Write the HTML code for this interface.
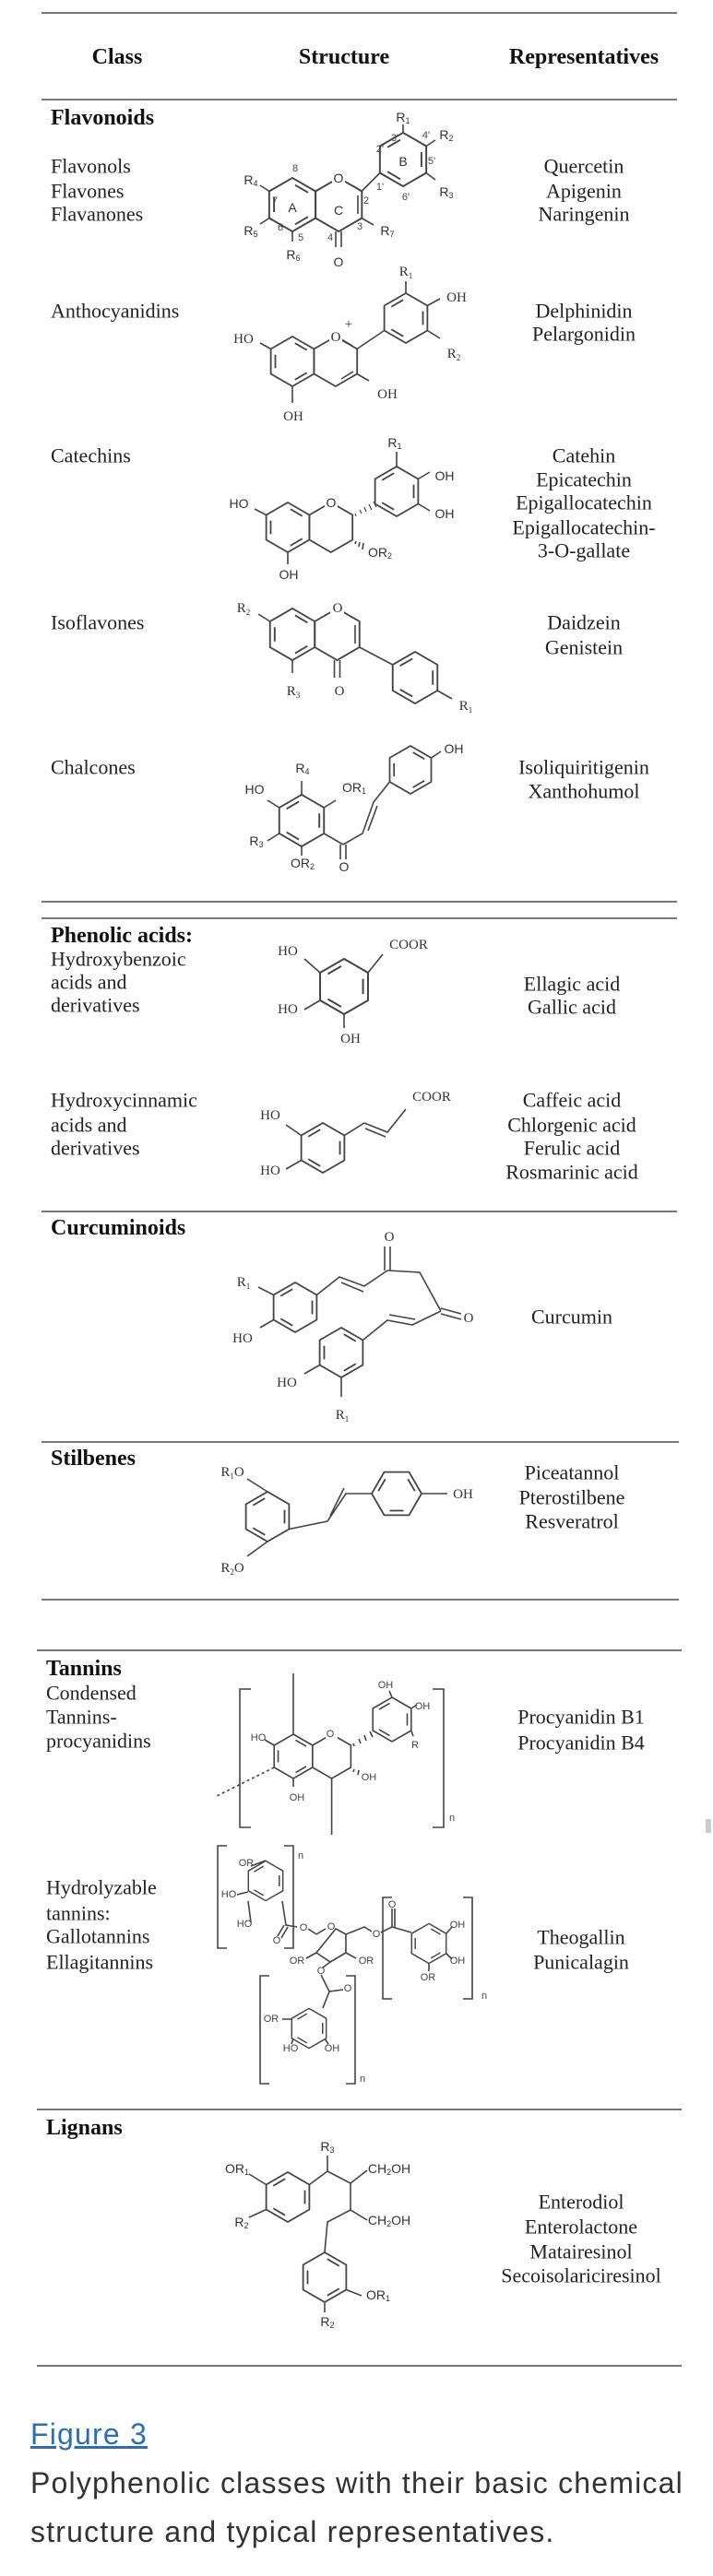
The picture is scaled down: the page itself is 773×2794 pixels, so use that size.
<!DOCTYPE html>
<html><head><meta charset="utf-8">
<style>
html,body{margin:0;padding:0;background:#fff;}
body{width:773px;height:2794px;position:relative;overflow:hidden;}
svg{position:absolute;left:0;top:0;}
.t{font-family:"Liberation Serif",serif;font-size:22px;fill:#222;}
.b{font-family:"Liberation Serif",serif;font-size:24px;font-weight:bold;fill:#111;}
.r{font-family:"Liberation Serif",serif;font-size:22px;fill:#222;text-anchor:middle;}
.l{font-family:"Liberation Serif",serif;font-size:15px;fill:#333;text-anchor:middle;dominant-baseline:central;}
.s{font-family:"Liberation Sans",sans-serif;font-size:14px;fill:#333;text-anchor:middle;dominant-baseline:central;}
.ss{font-family:"Liberation Sans",sans-serif;font-size:11px;fill:#444;text-anchor:middle;dominant-baseline:central;}
.hr{stroke:#777;stroke-width:2;}
.m{stroke:#444;stroke-width:1.6;fill:none;}
.m *{vector-effect:non-scaling-stroke;}
.cap{position:absolute;left:33px;font-family:"Liberation Sans",sans-serif;font-size:32px;letter-spacing:1.2px;color:#333;white-space:nowrap;line-height:53px;}
</style></head><body>
<svg width="773" height="2794" viewBox="0 0 773 2794">
<defs>
<polygon id="hx" points="0,-24 20.78,-12 20.78,12 0,24 -20.78,12 -20.78,-12"/>
<g id="hd"><polygon points="0,-24 20.78,-12 20.78,12 0,24 -20.78,12 -20.78,-12"/><path d="M2.5,-17.6L14,-10.9M14,10.9L2.5,17.6M-16.45,6.6L-16.45,-6.6"/></g>
<g id="hd2"><polygon points="0,-24 20.78,-12 20.78,12 0,24 -20.78,12 -20.78,-12"/><path d="M16.45,-6.6L16.45,6.6M-2.5,17.6L-14,10.9M-14,-10.9L-2.5,-17.6"/></g>
<g id="fd"><polygon points="-24,0 -12,-20.78 12,-20.78 24,0 12,20.78 -12,20.78"/><path d="M-10.9,-14L-17.6,-2.5M-6.6,16.45L6.6,16.45M17.6,-2.5L10.9,-14"/></g>
</defs>

<rect x="765" y="1973" width="6" height="15" fill="#ccc"/>

<!-- rules -->
<line class="hr" x1="45" y1="14" x2="734" y2="14"/>
<line class="hr" x1="45" y1="108" x2="734" y2="108"/>
<line class="hr" x1="45" y1="978" x2="734" y2="978"/>
<line class="hr" x1="45" y1="996" x2="734" y2="996"/>
<line class="hr" x1="45" y1="1314" x2="734" y2="1314"/>
<line class="hr" x1="45" y1="1564" x2="736" y2="1564"/>
<line class="hr" x1="45" y1="1735" x2="736" y2="1735"/>
<line class="hr" x1="40" y1="1790" x2="739" y2="1790"/>
<line class="hr" x1="40" y1="2288" x2="739" y2="2288"/>
<line class="hr" x1="40" y1="2566" x2="739" y2="2566"/>

<g dominant-baseline="central">
<text class="b" x="127" y="62" text-anchor="middle">Class</text>
<text class="b" x="373" y="62" text-anchor="middle">Structure</text>
<text class="b" x="633" y="62" text-anchor="middle">Representatives</text>

<text class="b" x="55" y="128">Flavonoids</text>
<text class="t" x="55" y="180">Flavonols</text>
<text class="t" x="55" y="207">Flavones</text>
<text class="t" x="55" y="232">Flavanones</text>
<text class="r" x="633" y="180">Quercetin</text>
<text class="r" x="633" y="207">Apigenin</text>
<text class="r" x="633" y="232">Naringenin</text>

<text class="t" x="55" y="337">Anthocyanidins</text>
<text class="r" x="633" y="337">Delphinidin</text>
<text class="r" x="633" y="362">Pelargonidin</text>

<text class="t" x="55" y="494">Catechins</text>
<text class="r" x="633" y="494">Catehin</text>
<text class="r" x="633" y="520">Epicatechin</text>
<text class="r" x="633" y="545">Epigallocatechin</text>
<text class="r" x="633" y="572">Epigallocatechin-</text>
<text class="r" x="633" y="597">3-O-gallate</text>

<text class="t" x="55" y="675">Isoflavones</text>
<text class="r" x="633" y="675">Daidzein</text>
<text class="r" x="633" y="702">Genistein</text>

<text class="t" x="55" y="832">Chalcones</text>
<text class="r" x="633" y="832">Isoliquiritigenin</text>
<text class="r" x="633" y="858">Xanthohumol</text>

<text class="b" x="55" y="1015">Phenolic acids:</text>
<text class="t" x="55" y="1040">Hydroxybenzoic</text>
<text class="t" x="55" y="1065">acids and</text>
<text class="t" x="55" y="1090">derivatives</text>
<text class="r" x="620" y="1067">Ellagic acid</text>
<text class="r" x="620" y="1092">Gallic acid</text>

<text class="t" x="55" y="1193">Hydroxycinnamic</text>
<text class="t" x="55" y="1220">acids and</text>
<text class="t" x="55" y="1245">derivatives</text>
<text class="r" x="620" y="1193">Caffeic acid</text>
<text class="r" x="620" y="1220">Chlorgenic acid</text>
<text class="r" x="620" y="1245">Ferulic acid</text>
<text class="r" x="620" y="1271">Rosmarinic acid</text>

<text class="b" x="55" y="1332">Curcuminoids</text>
<text class="r" x="620" y="1428">Curcumin</text>

<text class="b" x="55" y="1582">Stilbenes</text>
<text class="r" x="620" y="1597">Piceatannol</text>
<text class="r" x="620" y="1624">Pterostilbene</text>
<text class="r" x="620" y="1650">Resveratrol</text>

<text class="b" x="50" y="1810">Tannins</text>
<text class="t" x="50" y="1836">Condensed</text>
<text class="t" x="50" y="1862">Tannins-</text>
<text class="t" x="50" y="1888">procyanidins</text>
<text class="r" x="630" y="1862">Procyanidin B1</text>
<text class="r" x="630" y="1890">Procyanidin B4</text>

<text class="t" x="50" y="2047">Hydrolyzable</text>
<text class="t" x="50" y="2075">tannins:</text>
<text class="t" x="50" y="2100">Gallotannins</text>
<text class="t" x="50" y="2128">Ellagitannins</text>
<text class="r" x="630" y="2101">Theogallin</text>
<text class="r" x="630" y="2128">Punicalagin</text>

<text class="b" x="50" y="2308">Lignans</text>
<text class="r" x="630" y="2388">Enterodiol</text>
<text class="r" x="630" y="2415">Enterolactone</text>
<text class="r" x="630" y="2442">Matairesinol</text>
<text class="r" x="630" y="2468">Secoisolariciresinol</text>
</g>

<!-- Flavone -->
<g class="m">
<use href="#hd" transform="translate(317,222) scale(1.21)"/>
<use href="#hx" transform="translate(367.2,222) scale(1.21)"/>
<use href="#hd2" transform="translate(437,173) scale(1.21)"/>
<path d="M388,232L388,212M392,207.5L412,187.5M437,144L437,135M462,158.5L472,152M462,187.5L472,195M292,207.5L282,201M292,236.5L282,243M317,251L317,262M364,251L364,268M370,251L370,268M392,236.5L405,244"/>
</g>
<rect x="360" y="185" width="14" height="16" fill="#fff"/>
<text class="s" x="367" y="193">O</text>
<text class="s" x="437" y="127">R<tspan font-size="9" dy="4">1</tspan></text>
<text class="s" x="484" y="146">R<tspan font-size="9" dy="4">2</tspan></text>
<text class="s" x="484" y="208">R<tspan font-size="9" dy="4">3</tspan></text>
<text class="s" x="272" y="195">R<tspan font-size="9" dy="4">4</tspan></text>
<text class="s" x="272" y="250">R<tspan font-size="9" dy="4">5</tspan></text>
<text class="s" x="318" y="276">R<tspan font-size="9" dy="4">6</tspan></text>
<text class="s" x="420" y="250">R<tspan font-size="9" dy="4">7</tspan></text>
<text class="s" x="367" y="284">O</text>
<text class="s" x="317" y="225">A</text>
<text class="s" x="367" y="228">C</text>
<text class="s" x="437" y="175">B</text>
<text class="ss" x="320" y="183">8</text>
<text class="ss" x="298" y="218">7</text>
<text class="ss" x="304" y="247">6</text>
<text class="ss" x="326" y="258">5</text>
<text class="ss" x="358" y="258">4</text>
<text class="ss" x="390" y="246">3</text>
<text class="ss" x="397" y="218">2</text>
<text class="ss" x="412" y="203">1'</text>
<text class="ss" x="412" y="162">2'</text>
<text class="ss" x="428" y="150">3'</text>
<text class="ss" x="462" y="147">4'</text>
<text class="ss" x="468" y="175">5'</text>
<text class="ss" x="440" y="214">6'</text>

<!-- Anthocyanidin -->
<g class="m">
<use href="#hd" transform="translate(317,392) scale(1.125)"/>
<use href="#hx" transform="translate(363.8,392) scale(1.125)"/>
<use href="#hd2" transform="translate(440,345) scale(1.125)"/>
<path d="M370,368L382,375M383,403L370,411M293.6,378.5L282,372M317,419L317,437M387,405.5L400,413M387,378.5L416.6,358.5M440,318L440,305M463.4,331.5L477,324M463.4,358.5L477,367"/>
</g>
<rect x="357" y="358" width="14" height="16" fill="#fff"/>
<text class="l" x="364" y="366">O</text>
<text class="l" x="378" y="352" font-size="12">+</text>
<text class="l" x="264" y="368">HO</text>
<text class="l" x="318" y="452">OH</text>
<text class="l" x="420" y="428">OH</text>
<text class="l" x="440" y="295">R<tspan font-size="9" dy="4">1</tspan></text>
<text class="l" x="495" y="323">OH</text>
<text class="l" x="492" y="384">R<tspan font-size="9" dy="4">2</tspan></text>

<!-- Catechin -->
<g class="m">
<use href="#hd" transform="translate(312,572) scale(1.125)"/>
<use href="#hx" transform="translate(358.8,572) scale(1.125)"/>
<use href="#hd2" transform="translate(430,533) scale(1.125)"/>
<path d="M288.6,558.5L276,552M312,599L312,612M430,506L430,490M453.4,519.5L466,512M453.4,546.5L466,554"/>
<path d="M385,557L386,560M390,553L392,557M395,550L397,555M400,547L403,553M405,544L408,550" stroke-width="1.2"/>
<path d="M386,587L385,590M390,588L389,593M394,589L393,596"/>
</g>
<rect x="352" y="537" width="14" height="16" fill="#fff"/>
<text class="s" x="359" y="545">O</text>
<text class="s" x="259" y="546">HO</text>
<text class="s" x="313" y="623">OH</text>
<text class="s" x="412" y="599">OR<tspan font-size="9" dy="4">2</tspan></text>
<text class="s" x="428" y="480">R<tspan font-size="9" dy="4">1</tspan></text>
<text class="s" x="482" y="516">OH</text>
<text class="s" x="482" y="557">OH</text>

<!-- Isoflavone -->
<g class="m">
<use href="#hd" transform="translate(317,688) scale(1.167)"/>
<use href="#hx" transform="translate(365.5,688) scale(1.167)"/>
<use href="#fd" transform="translate(450,735) scale(1.167) rotate(30)"/>
<path d="M385,678L385,698M292.75,674L280,666M317,716L317,730M362.5,716L362.5,735M368.5,716L368.5,735M389.75,702L425.75,721M474.25,749L490,758"/>
</g>
<rect x="358" y="652" width="15" height="16" fill="#fff"/>
<text class="l" x="366" y="660">O</text>
<text class="l" x="264" y="660">R<tspan font-size="9" dy="4">2</tspan></text>
<text class="l" x="318" y="750">R<tspan font-size="9" dy="4">3</tspan></text>
<text class="l" x="368" y="750">O</text>
<text class="l" x="505" y="766">R<tspan font-size="9" dy="4">1</tspan></text>

<!-- Chalcone -->
<g class="m">
<use href="#hd2" transform="translate(327,890) scale(1.167)"/>
<use href="#hd" transform="translate(445,835) scale(1.083)"/>
<path d="M327,862L327,847M302.75,876L290,868M351.25,876L364,868M302.75,904L290,912M327,918L327,928M351.25,904L372,916M369,916L369,932M375,916L375,932M372,916L393,904L405,870L422.5,848M399,901L409,874M467.5,822L478,815"/>
</g>
<text class="s" x="328" y="833">R<tspan font-size="9" dy="4">4</tspan></text>
<text class="s" x="276" y="856">HO</text>
<text class="s" x="384" y="854">OR<tspan font-size="9" dy="4">1</tspan></text>
<text class="s" x="278" y="912">R<tspan font-size="9" dy="4">3</tspan></text>
<text class="s" x="328" y="936">OR<tspan font-size="9" dy="4">2</tspan></text>
<text class="s" x="373" y="940">O</text>
<text class="s" x="492" y="812">OH</text>

<!-- Gallic -->
<g class="m">
<use href="#hd2" transform="translate(373,1070) scale(1.25)"/>
<path d="M399,1055L415,1035M347,1055L330,1040M347,1085L330,1095M373,1100L373,1115"/>
</g>
<text class="l" x="312" y="1032">HO</text>
<text class="l" x="443" y="1025">COOR</text>
<text class="l" x="312" y="1095">HO</text>
<text class="l" x="380" y="1127">OH</text>

<!-- Caffeic -->
<g class="m">
<use href="#hd2" transform="translate(350,1245) scale(1.125)"/>
<path d="M373.4,1231.5L395,1218L420,1228L440,1203M396,1224L418,1233M326.6,1231.5L310,1220M326.6,1258.5L310,1268"/>
</g>
<text class="l" x="293" y="1210">HO</text>
<text class="l" x="293" y="1270">HO</text>
<text class="l" x="468" y="1190">COOR</text>

<!-- Curcumin -->
<g class="m">
<use href="#hd2" transform="translate(320,1418) scale(1.125)"/>
<use href="#hd" transform="translate(370,1467) scale(1.125)"/>
<path d="M296.6,1404.5L280,1396M296.6,1431.5L282,1440M343.4,1404.5L368,1385L395,1395L420,1378M370,1391L394,1401M417,1378L417,1352M423,1378L423,1352M420,1378L455,1380L478,1422M478,1419L500,1425M478,1425L500,1431M478,1422L447,1437L420,1432L393.4,1453.5M450,1431L422,1426M346.6,1480.5L330,1490M370,1494L370,1515"/>
</g>
<text class="l" x="422" y="1342">O</text>
<text class="l" x="508" y="1430">O</text>
<text class="l" x="264" y="1391">R<tspan font-size="9" dy="4">1</tspan></text>
<text class="l" x="263" y="1452">HO</text>
<text class="l" x="311" y="1500">HO</text>
<text class="l" x="371" y="1535">R<tspan font-size="9" dy="4">1</tspan></text>

<!-- Stilbene -->
<g class="m">
<use href="#hd2" transform="translate(290,1645) scale(1.125)"/>
<use href="#fd" transform="translate(430,1620) scale(1.125)"/>
<path d="M290,1618L268,1604M290,1672L268,1688M313.4,1658.5L355,1650L375,1620L403,1620M358,1644L373,1614M457,1620L485,1620"/>
</g>
<text class="l" x="252" y="1597">R<tspan font-size="9" dy="4">1</tspan><tspan dy="-4">O</tspan></text>
<text class="l" x="252" y="1701">R<tspan font-size="9" dy="4">2</tspan><tspan dy="-4">O</tspan></text>
<text class="l" x="502" y="1621">OH</text>

<!-- Procyanidin -->
<g class="m" stroke-width="1.3">
<use href="#hd" transform="translate(318,1905)"/>
<use href="#hx" transform="translate(359.6,1905)"/>
<use href="#hd2" transform="translate(425,1865)"/>
<path d="M318,1881L318,1815M297.2,1893L287,1887M318,1929L318,1938M359.6,1929L359.6,1990M425,1841L422,1834M445.8,1853L452,1849M445.8,1877L448,1883"/>
<path d="M297.2,1917L235,1948" stroke-dasharray="3,3"/>
<path d="M383,1891L384,1894M389,1886L391,1891M395,1882L397,1888M401,1878L404,1884"/>
<path d="M384,1919L383,1922M389,1920L388,1925"/>
<path d="M272,1832L260,1832L260,1982L272,1982M469,1832L481,1832L481,1982L469,1982"/>
</g>
<rect x="353" y="1874" width="13" height="14" fill="#fff"/>
<text class="ss" x="358" y="1881">O</text>
<text class="ss" x="280" y="1885">HO</text>
<text class="ss" x="322" y="1950">OH</text>
<text class="ss" x="400" y="1928">OH</text>
<text class="ss" x="418" y="1828">OH</text>
<text class="ss" x="458" y="1851">OH</text>
<text class="ss" x="450" y="1893">R</text>
<text class="ss" x="490" y="1972">n</text>

<!-- Hydrolyzable -->
<g class="m" stroke-width="1.2">
<path d="M343,2098L353,2092M364,2092L375,2098L375,2118L358,2128L343,2118Z"/>
<use href="#hd2" transform="translate(288,2040) scale(0.9)"/>
<use href="#hd" transform="translate(465,2108) scale(0.9)"/>
<use href="#hd2" transform="translate(335,2200) scale(0.9)"/>
<path d="M288,2018L272,2024M269,2052L257,2055M269,2062L272,2085M306,2062L310,2088L322,2090M308,2088L301,2100M312,2090L305,2102M334,2092L343,2098"/>
<path d="M375,2098L395,2090L403,2095M413,2096L425,2090L425,2070M428,2090L428,2070M425,2090L446,2096M484,2097L490,2090M484,2119L490,2125M465,2130L465,2138"/>
<path d="M343,2118L332,2124M375,2118L386,2124M358,2128L350,2134M348,2142L357,2160L372,2158M357,2160L350,2178M316,2190L306,2190M318,2211L316,2217M352,2211L356,2217"/>
<path d="M246,2002L236,2002L236,2113L246,2113M308,2002L318,2002L318,2113L308,2113"/>
<path d="M425,2058L415,2058L415,2168L425,2168M502,2058L512,2058L512,2168L502,2168"/>
<path d="M292,2143L282,2143L282,2260L292,2260M375,2143L385,2143L385,2260L375,2260"/>
</g>
<text class="ss" x="359" y="2090">O</text>
<text class="ss" x="329" y="2091">O</text>
<text class="ss" x="300" y="2105">O</text>
<text class="ss" x="267" y="2021">OR</text>
<text class="ss" x="248" y="2055">HO</text>
<text class="ss" x="265" y="2087">HO</text>
<text class="ss" x="326" y="2013">n</text>
<text class="ss" x="408" y="2098">O</text>
<text class="ss" x="425" y="2066">O</text>
<text class="ss" x="496" y="2088">OH</text>
<text class="ss" x="496" y="2127">OH</text>
<text class="ss" x="464" y="2145">OR</text>
<text class="ss" x="525" y="2165">n</text>
<text class="ss" x="322" y="2127">OR</text>
<text class="ss" x="397" y="2127">OR</text>
<text class="ss" x="348" y="2138">O</text>
<text class="ss" x="377" y="2157">O</text>
<text class="ss" x="294" y="2190">OR</text>
<text class="ss" x="315" y="2222">HO</text>
<text class="ss" x="360" y="2222">OH</text>
<text class="ss" x="393" y="2255">n</text>

<!-- Lignan -->
<g class="m">
<use href="#hd2" transform="translate(312,2383) scale(1.125)"/>
<use href="#hd" transform="translate(352,2470) scale(1.125)"/>
<path d="M288.6,2369.5L270,2358M288.6,2396.5L270,2405M335.4,2369.5L355,2355L355,2338M355,2355L380,2368L398,2354M380,2368L380,2397L398,2408M380,2397L355,2410L352,2443M375.4,2483.5L392,2490M352,2497L352,2508"/>
</g>
<text class="s" x="257" y="2352">OR<tspan font-size="9" dy="4">1</tspan></text>
<text class="s" x="262" y="2410">R<tspan font-size="9" dy="4">2</tspan></text>
<text class="s" x="355" y="2328">R<tspan font-size="9" dy="4">3</tspan></text>
<text class="s" x="422" y="2352">CH<tspan font-size="9" dy="4">2</tspan><tspan dy="-4">OH</tspan></text>
<text class="s" x="422" y="2408">CH<tspan font-size="9" dy="4">2</tspan><tspan dy="-4">OH</tspan></text>
<text class="s" x="410" y="2489">OR<tspan font-size="9" dy="4">1</tspan></text>
<text class="s" x="355" y="2518">R<tspan font-size="9" dy="4">2</tspan></text>
</svg>

<div class="cap" style="top:2614px;color:#2a6ebb;text-decoration:underline;">Figure 3</div>
<div class="cap" style="top:2667px;">Polyphenolic classes with their basic chemical</div>
<div class="cap" style="top:2720px;">structure and typical representatives.</div>
</body></html>
